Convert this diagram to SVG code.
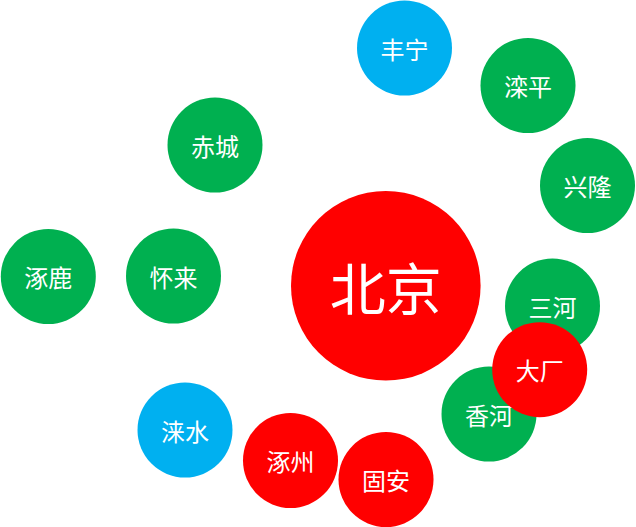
<svg xmlns="http://www.w3.org/2000/svg" width="636" height="527" viewBox="0 0 636 527">
<style>
.red{fill:#FF0000}
.green{fill:#00B050}
.blue{fill:#00B0F0}
text{fill:#FFFFFF;font-family:"Noto Sans CJK SC","Noto Sans",sans-serif;font-size:24px;text-anchor:middle;dominant-baseline:central}
.big{font-size:56px}
</style>
<rect width="636" height="527" fill="#FFFFFF"/>
<g id="connectors"></g>
<g id="beijing"><circle class="red" cx="385.8" cy="285.8" r="94.8"/><text class="big" x="385.8" y="285.8">北京</text></g>
<g id="fengning"><circle class="blue" cx="404.5" cy="48" r="47.5"/><text x="404.5" y="48">丰宁</text></g>
<g id="luanping"><circle class="green" cx="528" cy="85.5" r="47.5"/><text x="528" y="85.5">滦平</text></g>
<g id="chicheng"><circle class="green" cx="215" cy="145" r="47.5"/><text x="215" y="145">赤城</text></g>
<g id="xinglong"><circle class="green" cx="587.5" cy="185.5" r="47.5"/><text x="587.5" y="185.5">兴隆</text></g>
<g id="zhuolu"><circle class="green" cx="48.3" cy="276.5" r="47.5"/><text x="48.3" y="276.5">涿鹿</text></g>
<g id="huailai"><circle class="green" cx="173.5" cy="276" r="47.5"/><text x="173.5" y="276">怀来</text></g>
<g id="sanhe"><circle class="green" cx="552.5" cy="306" r="47.5"/><text x="552.5" y="306">三河</text></g>
<g id="xianghe"><circle class="green" cx="489" cy="414" r="47.5"/><text x="489" y="414">香河</text></g>
<g id="dachang"><circle class="red" cx="539.7" cy="369.7" r="47.5"/><text x="539.7" y="369.7">大厂</text></g>
<g id="laishui"><circle class="blue" cx="185" cy="430" r="47.5"/><text x="185" y="430">涞水</text></g>
<g id="zhuozhou"><circle class="red" cx="290.5" cy="460.5" r="47.5"/><text x="290.5" y="460.5">涿州</text></g>
<g id="guan"><circle class="red" cx="386" cy="479.5" r="47.5"/><text x="386" y="479.5">固安</text></g>
</svg>
